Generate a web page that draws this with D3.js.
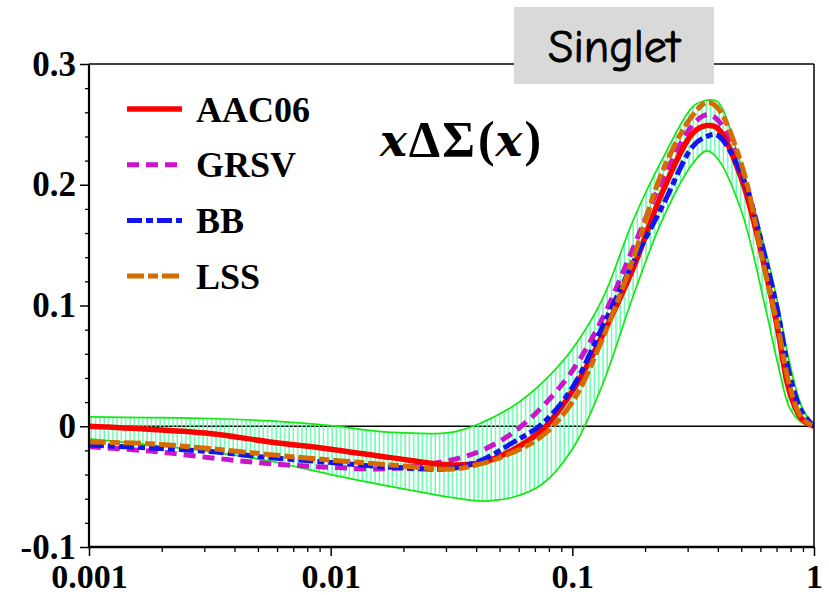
<!DOCTYPE html>
<html>
<head>
<meta charset="utf-8">
<script src="https://cdn.jsdelivr.net/npm/d3@7"></script>
<style>
  body { margin: 0; background: #fff; }
</style>
</head>
<body>
<svg id="chart" width="829" height="595"></svg>
<script>
// Sampling points in x (log spaced, plus a few extra near the peak and the edges)
const xValues = [0.001, 0.00178, 0.00316, 0.00562, 0.01, 0.0178, 0.0316, 0.0422, 0.0562, 0.075,
                 0.1, 0.133, 0.178, 0.237, 0.316, 0.36, 0.398, 0.501, 0.631, 0.708, 0.794, 0.891, 1];

// x*DeltaSigma(x) for each parametrisation
const aac06 = [0, -0.0025, -0.006, -0.013, -0.019, -0.026, -0.032, -0.030, -0.020, -0.003,
               0.029, 0.075, 0.130, 0.195, 0.243, 0.249, 0.247, 0.205, 0.128, 0.080, 0.028, 0.006, 0];
const grsv  = [-0.017, -0.0205, -0.026, -0.031, -0.034, -0.035, -0.028, -0.020, -0.006, 0.016,
               0.046, 0.089, 0.147, 0.205, 0.250, 0.258, 0.254, 0.214, 0.130, 0.082, 0.028, 0.006, 0];
const bb    = [-0.0155, -0.018, -0.021, -0.026, -0.030, -0.034, -0.035, -0.028, -0.014, 0.002,
               0.032, 0.082, 0.135, 0.183, 0.232, 0.240, 0.241, 0.209, 0.138, 0.095, 0.042, 0.012, 0];
const lss   = [-0.013, -0.0145, -0.0185, -0.0235, -0.028, -0.032, -0.0355, -0.031, -0.022, -0.008,
               0.020, 0.072, 0.138, 0.212, 0.258, 0.268, 0.264, 0.217, 0.126, 0.083, 0.033, 0.007, 0];

// AAC06 uncertainty band
const bandUpper = [0.0077, 0.0072, 0.0064, 0.0044, 0.0005, -0.005, -0.005, 0.003, 0.016, 0.036,
                   0.064, 0.105, 0.170, 0.222, 0.265, 0.270, 0.269, 0.215, 0.145, 0.102, 0.052, 0.016, 0];
const bandLower = [-0.0105, -0.0155, -0.021, -0.029, -0.040, -0.050, -0.059, -0.062, -0.059, -0.048,
                   -0.019, 0.034, 0.107, 0.172, 0.218, 0.228, 0.222, 0.178, 0.097, 0.052, 0.015, 0.003, 0];

const seriesNames = ["AAC06", "GRSV", "BB", "LSS"];
const yMajorTicks = [-0.1, 0, 0.1, 0.2, 0.3];
const yTickLabels = ["-0.1", "0", "0.1", "0.2", "0.3"];
const xMajorTicks = [0.001, 0.01, 0.1, 1];
const xTickLabels = ["0.001", "0.01", "0.1", "1"];
const titleText = "Singlet";

const series = [
  { name: seriesNames[1], values: grsv,  color: "#cc14cc", width: 5, dash: "12,7" },
  { name: seriesNames[0], values: aac06, color: "#ff0000", width: 5.5, dash: null },
  { name: seriesNames[2], values: bb,    color: "#1414f0", width: 5, dash: "15,4,7,4" },
  { name: seriesNames[3], values: lss,   color: "#d66b00", width: 5, dash: "17,4,10,4" }
];
const legendOrder = [1, 0, 2, 3];

const svg = d3.select("#chart");
const L = 89, R = 814, T = 64, B = 547;

const x = d3.scaleLog().domain([0.001, 1]).range([L, R]);
const y = d3.scaleLinear().domain([-0.1, 0.3]).range([B, T]);

const defs = svg.append("defs");
defs.append("clipPath").attr("id", "plotClip")
  .append("rect").attr("x", L).attr("y", T).attr("width", R - L).attr("height", B - T);
const hatch = defs.append("pattern").attr("id", "hatch")
  .attr("patternUnits", "userSpaceOnUse").attr("width", 4.3).attr("height", 20);
hatch.append("line").attr("x1", 1).attr("x2", 1).attr("y1", 0).attr("y2", 20)
  .attr("stroke", "#5cffa8").attr("stroke-width", 1.4);

const plot = svg.append("g").attr("clip-path", "url(#plotClip)");

// zero line
plot.append("line")
  .attr("x1", L).attr("x2", R).attr("y1", y(0)).attr("y2", y(0))
  .attr("stroke", "#000").attr("stroke-width", 1.3);

const bandData = xValues.map((v, i) => ({ x: v, lo: bandLower[i], hi: bandUpper[i] }));
const curve = d3.curveCatmullRom.alpha(0.5);

plot.append("path")
  .datum(bandData)
  .attr("d", d3.area().x(d => x(d.x)).y0(d => y(d.lo)).y1(d => y(d.hi)).curve(curve))
  .attr("fill", "url(#hatch)");

["lo", "hi"].forEach(k => {
  plot.append("path")
    .datum(bandData)
    .attr("d", d3.line().x(d => x(d.x)).y(d => y(d[k])).curve(curve))
    .attr("fill", "none").attr("stroke", "#14e614").attr("stroke-width", 1.7);
});

const line = d3.line().x(d => x(d[0])).y(d => y(d[1])).curve(curve);
series.forEach(s => {
  plot.append("path")
    .datum(xValues.map((v, i) => [v, s.values[i]]))
    .attr("d", line)
    .attr("fill", "none")
    .attr("stroke", s.color)
    .attr("stroke-width", s.width)
    .attr("stroke-dasharray", s.dash)
    .attr("stroke-linecap", "butt");
});

// axes
const tickFont = "'Liberation Serif', 'Times New Roman', serif";

const yMinor = d3.range(-0.1, 0.3001, 0.02).map(v => +v.toFixed(3)).filter(v => !yMajorTicks.includes(v));
svg.append("g").attr("transform", `translate(${L},0)`)
  .call(d3.axisLeft(y).tickValues(yMinor).tickSize(4).tickFormat(""))
  .call(g => g.select(".domain").remove())
  .call(g => g.selectAll("line").attr("stroke", "#000").attr("stroke-width", 1.3));

svg.append("g").attr("transform", `translate(${L},0)`)
  .call(d3.axisLeft(y).tickValues(yMajorTicks).tickSize(9).tickPadding(4)
        .tickFormat((d, i) => yTickLabels[i]))
  .call(g => g.select(".domain").remove())
  .call(g => g.selectAll("line").attr("stroke", "#000").attr("stroke-width", 1.5))
  .call(g => g.selectAll("text").attr("font-family", tickFont).attr("font-weight", "bold")
        .attr("font-size", 35).attr("fill", "#000"));

const xMinor = [];
[0.001, 0.01, 0.1].forEach(dec => { for (let k = 2; k <= 9; k++) xMinor.push(dec * k); });
svg.append("g").attr("transform", `translate(0,${B})`)
  .call(d3.axisBottom(x).tickValues(xMinor).tickSize(5).tickFormat(""))
  .call(g => g.select(".domain").remove())
  .call(g => g.selectAll("line").attr("stroke", "#000").attr("stroke-width", 1.3));

svg.append("g").attr("transform", `translate(0,${B})`)
  .call(d3.axisBottom(x).tickValues(xMajorTicks).tickSize(9).tickPadding(8)
        .tickFormat((d, i) => xTickLabels[i]))
  .call(g => g.select(".domain").remove())
  .call(g => g.selectAll("line").attr("stroke", "#000").attr("stroke-width", 1.5))
  .call(g => g.selectAll("text").attr("font-family", tickFont).attr("font-weight", "bold")
        .attr("font-size", 34).attr("fill", "#000"));

// frame
svg.append("line").attr("x1", L).attr("x2", R).attr("y1", T).attr("y2", T)
  .attr("stroke", "#000").attr("stroke-width", 1.5);
svg.append("line").attr("x1", R).attr("x2", R).attr("y1", T).attr("y2", B)
  .attr("stroke", "#000").attr("stroke-width", 1.5);
svg.append("line").attr("x1", L).attr("x2", L).attr("y1", T).attr("y2", B)
  .attr("stroke", "#000").attr("stroke-width", 2.2);
svg.append("line").attr("x1", L - 1).attr("x2", R).attr("y1", B).attr("y2", B)
  .attr("stroke", "#000").attr("stroke-width", 2.6);

// title box
svg.append("rect").attr("x", 514).attr("y", 7).attr("width", 200).attr("height", 77)
  .attr("fill", "#d9d9d9");
svg.append("text").attr("x", 614).attr("y", 62).attr("text-anchor", "middle")
  .attr("font-family", "'Comic Sans MS', 'Comic Neue', 'DejaVu Sans', sans-serif")
  .attr("font-size", 46).attr("fill", "#000")
  .attr("stroke", "#000").attr("stroke-width", 0.9)
  .text(titleText);

// quantity label
const q = svg.append("text").attr("x", 380).attr("y", 156)
  .attr("font-family", tickFont).attr("font-weight", "bold").attr("font-size", 50).attr("fill", "#000");
q.append("tspan").attr("font-style", "italic").attr("font-family", "'DejaVu Serif', serif").attr("font-size", 45).text("x");
q.append("tspan").attr("dx", 2).text("Δ");
q.append("tspan").attr("dx", 2).text("Σ");
q.append("tspan").attr("dx", 3).text("(");
q.append("tspan").attr("dx", 1).attr("font-style", "italic").attr("font-family", "'DejaVu Serif', serif").attr("font-size", 45).text("x");
q.append("tspan").attr("dx", 2).text(")");

// legend
const legendY0 = 109, legendStep = 55.7;
legendOrder.forEach((si, row) => {
  const s = series[si];
  const ly = legendY0 + row * legendStep;
  svg.append("line").attr("x1", 127).attr("x2", 182).attr("y1", ly).attr("y2", ly)
    .attr("stroke", s.color).attr("stroke-width", s.width)
    .attr("stroke-dasharray", s.dash);
  svg.append("text").attr("x", 196).attr("y", ly + 12.5)
    .attr("font-family", tickFont).attr("font-weight", "bold").attr("font-size", 36)
    .attr("fill", "#000").text(s.name);
});
</script>
</body>
</html>
